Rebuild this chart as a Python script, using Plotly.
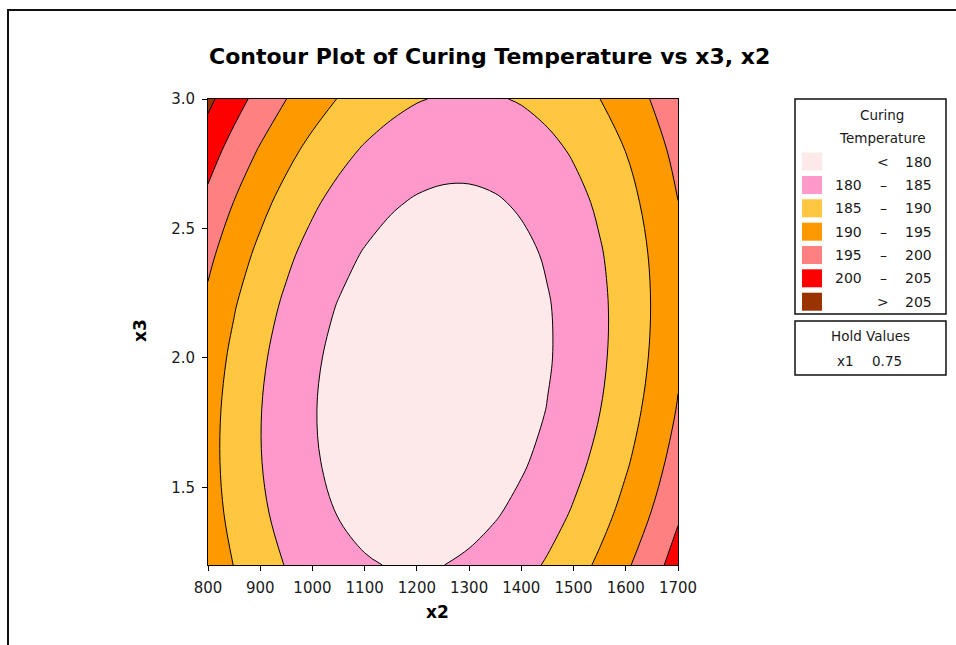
import plotly.graph_objects as go

# ---------------- data ----------------
x2_values = [800, 850, 900, 950, 1000, 1050, 1100, 1150, 1200, 1250,
             1300, 1350, 1400, 1450, 1500, 1550, 1600, 1650, 1700]
x3_values = [1.2, 1.4, 1.6, 1.8, 2.0, 2.2, 2.4, 2.6, 2.8, 3.0]

temp_x3_1_2 = [193.09, 189.88, 187.11, 184.78, 182.88, 181.42, 180.40, 179.81, 179.67, 179.96,
               180.68, 181.85, 183.45, 185.48, 187.96, 190.87, 194.22, 198.00, 202.23]
temp_x3_1_4 = [192.01, 188.70, 185.83, 183.39, 181.39, 179.83, 178.70, 178.02, 177.77, 177.95,
               178.57, 179.64, 181.13, 183.07, 185.44, 188.25, 191.49, 195.17, 199.29]
temp_x3_1_6 = [191.56, 188.15, 185.17, 182.63, 180.53, 178.87, 177.64, 176.85, 176.49, 176.58,
               177.10, 178.05, 179.45, 181.28, 183.55, 186.25, 189.39, 192.97, 196.99]
temp_x3_1_8 = [191.75, 188.23, 185.15, 182.51, 180.30, 178.54, 177.21, 176.31, 175.85, 175.83,
               176.25, 177.10, 178.39, 180.12, 182.29, 184.89, 187.93, 191.40, 195.32]
temp_x3_2_0 = [192.57, 188.95, 185.76, 183.02, 180.71, 178.84, 177.40, 176.40, 175.84, 175.72,
               176.03, 176.78, 177.97, 179.60, 181.66, 184.16, 187.09, 190.47, 194.27]
temp_x3_2_2 = [194.01, 190.29, 187.00, 184.16, 181.74, 179.77, 178.23, 177.13, 176.47, 176.24,
               176.45, 177.10, 178.18, 179.70, 181.66, 184.06, 186.89, 190.16, 193.86]
temp_x3_2_4 = [196.09, 192.27, 188.88, 185.92, 183.41, 181.33, 179.69, 178.49, 177.72, 177.39,
               177.50, 178.04, 179.02, 180.44, 182.29, 184.59, 187.31, 190.48, 194.09]
temp_x3_2_6 = [198.80, 194.87, 191.38, 188.32, 185.71, 183.52, 181.78, 180.47, 179.60, 179.17,
               179.17, 179.61, 180.49, 181.81, 183.56, 185.75, 188.37, 191.44, 194.94]
temp_x3_2_8 = [202.14, 198.11, 194.51, 191.36, 188.63, 186.35, 184.50, 183.09, 182.12, 181.58,
               181.48, 181.82, 182.59, 183.81, 185.46, 187.54, 190.06, 193.02, 196.42]
temp_x3_3_0 = [206.11, 201.98, 198.28, 195.02, 192.19, 189.81, 187.85, 186.34, 185.26, 184.62,
               184.42, 184.66, 185.33, 186.44, 187.98, 189.96, 192.38, 195.24, 198.53]

temperature = [temp_x3_1_2, temp_x3_1_4, temp_x3_1_6, temp_x3_1_8, temp_x3_2_0,
               temp_x3_2_2, temp_x3_2_4, temp_x3_2_6, temp_x3_2_8, temp_x3_3_0]

level_start, level_end, level_step = 180, 205, 5

band_low = ["", "180", "185", "190", "195", "200", ""]
band_mid = ["<", "–", "–", "–", "–", "–", ">"]
band_high = ["180", "185", "190", "195", "200", "205", "205"]
band_colors = ["#FDE9E9", "#FF99CC", "#FFC63F", "#FF9900", "#FF8080", "#FF0000", "#993300"]

x_ticks = [800, 900, 1000, 1100, 1200, 1300, 1400, 1500, 1600, 1700]
y_ticks = [1.5, 2.0, 2.5, 3.0]
y_tick_text = ["1.5", "2.0", "2.5", "3.0"]

hold_name = "x1"
hold_value = "0.75"

# ---------------- layout helpers (pixel -> paper) ----------------
W, H = 956, 645
L, R, T, B = 208, 678, 99, 565


def px(x):
    return (x - L) / (R - L)


def py(y):
    return (B - y) / (B - T)


FONT = "DejaVu Sans"
TXT = "#1a1a1a"

fig = go.Figure()
n = len(band_colors)
fig.add_trace(go.Contour(
    x=x2_values, y=x3_values, z=temperature,
    autocontour=False,
    contours=dict(start=level_start, end=level_end, size=level_step,
                  coloring="fill", showlines=True),
    colorscale=[[i / (n - 1), c] for i, c in enumerate(band_colors)],
    line=dict(color="black", width=1, smoothing=1.0),
    showscale=False, hoverinfo="skip",
))

shapes = []
annotations = []


def label(x, y, text, size=14, color=TXT, **kw):
    annotations.append(dict(xref="paper", yref="paper", x=px(x), y=py(y), text=text,
                            xanchor="center", yanchor="middle", showarrow=False,
                            font=dict(family=FONT, size=size, color=color), **kw))


# outer frame (open to the right/bottom like the reference)
shapes.append(dict(type="rect", xref="paper", yref="paper",
                   x0=px(8), x1=px(W + 20), y0=py(10), y1=py(H + 20),
                   line=dict(color="#111", width=2), fillcolor="rgba(0,0,0,0)", layer="above"))

# legend box
shapes.append(dict(type="rect", xref="paper", yref="paper",
                   x0=px(795), x1=px(946), y0=py(99), y1=py(314),
                   line=dict(color="#111", width=1.5)))
label(882, 115, "Curing", size=13.5)
label(882, 138, "Temperature", size=13.5)
row_y = [161.5, 185, 208.3, 231.7, 255, 278.3, 301.7]
for i in range(n):
    yc = row_y[i]
    shapes.append(dict(type="rect", xref="paper", yref="paper",
                       x0=px(802), x1=px(822), y0=py(yc - 9), y1=py(yc + 9),
                       line=dict(width=0), fillcolor=band_colors[i]))
    if band_low[i]:
        label(848, yc, band_low[i])
    label(883, yc, band_mid[i])
    label(918, yc, band_high[i])

# hold values box
shapes.append(dict(type="rect", xref="paper", yref="paper",
                   x0=px(795), x1=px(946), y0=py(321), y1=py(375),
                   line=dict(color="#111", width=1.5)))
label(870, 336, "Hold Values", size=13.5)
label(845, 361, hold_name, size=13.5)
label(887, 361, hold_value, size=13.5)

# title and axis titles
label(489, 57, "<b>Contour Plot of Curing Temperature vs x3, x2</b>", size=22, color="#000")
label(437, 612, "<b>x2</b>", size=17, color="#000")
label(140, 331, "<b>x3</b>", size=17, color="#000", textangle=-90)

axis_common = dict(showgrid=False, zeroline=False, showline=True, linecolor="black",
                   linewidth=1, mirror=True, ticks="outside", ticklen=5, tickcolor="black",
                   ticklabelstandoff=4,
                   tickfont=dict(family=FONT, size=15, color=TXT))

fig.update_layout(
    width=W, height=H,
    margin=dict(l=L, r=W - R, t=T, b=H - B),
    paper_bgcolor="white", plot_bgcolor="white",
    showlegend=False,
    xaxis=dict(range=[800, 1700], tickvals=x_ticks, **axis_common),
    yaxis=dict(range=[1.2, 3.0], tickvals=y_ticks, ticktext=y_tick_text, **axis_common),
    shapes=shapes, annotations=annotations,
)

fig.write_html("out.html", config={"displayModeBar": False},
               post_script="document.body.style.margin='0';")
